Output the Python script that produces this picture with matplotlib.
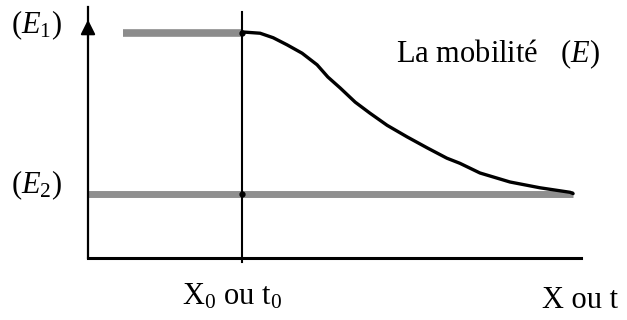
import matplotlib.pyplot as plt

plt.rcParams['font.family'] = ['Liberation Serif', 'DejaVu Serif']
plt.rcParams['mathtext.fontset'] = 'custom'
plt.rcParams['mathtext.rm'] = 'Liberation Serif'
plt.rcParams['mathtext.it'] = 'Liberation Serif:italic'

# niveaux de mobilite et position du front
E1 = 3.5
E2 = 1.0
x0 = 4.0
x_start = 0.9
x_end = 12.6
x_axis_end = 12.8
y_axis_top = 3.9

# courbe de la mobilite E apres x0
curve_x = [4.0, 4.47, 4.81, 5.17, 5.56, 5.95, 6.23, 6.55, 6.94, 7.32, 7.77,
           8.29, 8.81, 9.32, 9.66, 10.18, 10.96, 11.74, 12.52, 12.6]
curve_y = [3.51, 3.49, 3.42, 3.31, 3.18, 3.00, 2.81, 2.64, 2.42, 2.25, 2.06,
           1.88, 1.71, 1.55, 1.47, 1.32, 1.18, 1.09, 1.02, 1.0]

fig = plt.figure(figsize=(6.27, 3.2), dpi=100)
ax = fig.add_axes([0, 0, 1, 1])
ax.set_xlim(-2.286, 14.0)
ax.set_ylim(-0.963, 4.006)
ax.axis('off')

# paliers gris E1 et E2
ax.plot([x_start, x0], [E1, E1], color='#8c8c8c', lw=5.5, solid_capstyle='butt')
ax.plot([0, x_end], [E2, E2], color='#8f8f8f', lw=5, solid_capstyle='butt')

# axes
ax.plot([0, 0], [0, y_axis_top], color='black', lw=1.6)
ax.plot([0, x_axis_end], [0, 0], color='black', lw=2.2)
ax.annotate('', xy=(0, 3.70), xytext=(0, 3.40),
            arrowprops=dict(arrowstyle='-|>', color='black', lw=1.5,
                            mutation_scale=22, shrinkA=0, shrinkB=0))
ax.plot([x0, x0], [-0.06, 3.82], color='black', lw=1.5)

# decroissance de la mobilite
ax.plot(curve_x, curve_y, color='black', lw=2.4, solid_capstyle='round',
        solid_joinstyle='round')
ax.plot([x0, x0], [E1, E2], 'o', color='black', ms=3.5)

fs = 22
ax.text(-2.0, 3.49, r'($\mathit{E}_{\mathit{1}}$)', fontsize=fs, va='baseline')
ax.text(-2.0, 1.0, r'($\mathit{E}_2$)', fontsize=fs, va='baseline')
ax.text(8.0, 3.04, r'La mobilité   ($\mathit{E}$)', fontsize=fs, va='baseline')
ax.text(2.44, -0.73, r'X$_0$ ou t$_0$', fontsize=fs, va='baseline')
ax.text(11.78, -0.78, 'X ou t', fontsize=fs, va='baseline')

fig.savefig('out.png', dpi=100)
